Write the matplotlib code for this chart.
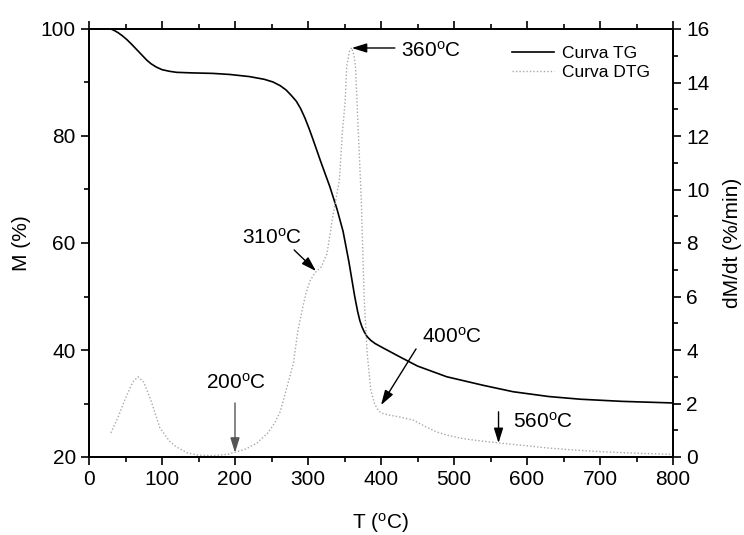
import numpy as np
import matplotlib
matplotlib.use("Agg")
import matplotlib.pyplot as plt
from matplotlib.ticker import MultipleLocator

plt.rcParams['font.family'] = ['Liberation Sans', 'DejaVu Sans']
plt.rcParams['mathtext.fontset'] = 'custom'
plt.rcParams['mathtext.rm'] = 'Liberation Sans'

# TG curve (left axis, %)
tg_T = [30, 35, 40, 46, 52, 58, 65, 72, 79, 85, 92, 100, 110, 120, 140, 170,
        193, 220, 240, 252, 262, 270, 277, 284, 290, 296, 302, 307, 318, 330,
        340, 348, 356, 364, 368, 371, 374, 377, 381, 386, 392, 400, 426, 450,
        490, 540, 581, 630, 673, 730, 800]
tg_M = [100, 99.7, 99.3, 98.7, 98, 97.2, 96.2, 95.2, 94.2, 93.5, 92.9, 92.4,
        92.1, 91.9, 91.8, 91.7, 91.5, 91.1, 90.6, 90.1, 89.4, 88.6, 87.6,
        86.5, 85.1, 83.3, 81.2, 79.3, 75, 70.5, 66.2, 62.2, 56.5, 50, 47.2,
        45.5, 44.3, 43.4, 42.5, 41.8, 41.2, 40.6, 38.7, 37, 35, 33.4, 32.2,
        31.3, 30.8, 30.4, 30.1]

# DTG curve (right axis, %/min)
dtg_T = [30, 40, 50, 60, 67, 75, 85, 97, 110, 120, 135, 150, 170, 190, 200,
         215, 230, 245, 255, 262, 270, 280, 286, 292, 297, 303, 310, 318, 326,
         334, 343, 347, 351, 353, 357, 360, 363, 365, 367, 370, 373, 377, 381,
         386, 391, 396, 400, 410, 425, 444, 460, 475, 490, 510, 530, 563, 600,
         627, 660, 700, 750, 800]
dtg_V = [0.9, 1.5, 2.2, 2.8, 3.0, 2.8, 2.1, 1.1, 0.6, 0.37, 0.15, 0.07, 0.05,
         0.1, 0.18, 0.3, 0.52, 0.9, 1.3, 1.7, 2.5, 3.5, 4.7, 5.5, 6.1, 6.6,
         6.9, 7.1, 7.6, 9.0, 10.35, 12.1, 13.35, 14.6, 15.2, 15.3, 15.0, 14.6,
         13.35, 11.5, 9.6, 5.9, 3.9, 2.5, 2.0, 1.75, 1.65, 1.57, 1.5, 1.38,
         1.15, 0.95, 0.82, 0.7, 0.62, 0.52, 0.42, 0.34, 0.27, 0.2, 0.14, 0.1]

fig = plt.figure(figsize=(7.44, 5.35), dpi=100)
ax1 = fig.add_axes([89 / 744, 1 - 457 / 535, 584 / 744, 428 / 535])
ax2 = ax1.twinx()

l1, = ax1.plot(tg_T, tg_M, color='black', lw=1.2, label='Curva TG')
l2, = ax2.plot(dtg_T, dtg_V, color='#a8a8a8', lw=1.0, ls=(0, (1, 1.5)),
               label='Curva DTG')

ax1.set_xlim(0, 800)
ax1.set_ylim(20, 100)
ax2.set_ylim(0, 16)
ax1.xaxis.set_major_locator(MultipleLocator(100))
ax1.xaxis.set_minor_locator(MultipleLocator(50))
ax1.yaxis.set_major_locator(MultipleLocator(20))
ax1.yaxis.set_minor_locator(MultipleLocator(10))
ax2.yaxis.set_major_locator(MultipleLocator(2))
ax2.yaxis.set_minor_locator(MultipleLocator(1))

for ax in (ax1, ax2):
    for sp in ax.spines.values():
        sp.set_linewidth(1.3)
ax1.tick_params(which='both', direction='out', width=1.2, labelsize=15,
                top=True, right=False)
ax1.tick_params(which='major', length=6)
ax1.tick_params(which='minor', length=3.5)
ax2.tick_params(which='both', direction='out', width=1.2, labelsize=15)
ax2.tick_params(which='major', length=6)
ax2.tick_params(which='minor', length=3.5)

ax1.set_xlabel('T ($\\rm^{o}$C)', fontsize=15, labelpad=16)
ax1.set_ylabel('M (%)', fontsize=15, labelpad=7)
ax2.set_ylabel('dM/dt (%/min)', fontsize=15, labelpad=10)

ax1.legend([l1, l2], ['Curva TG', 'Curva DTG'], loc='upper right',
           frameon=False, fontsize=12.5, handlelength=2.4, handletextpad=0.5,
           borderaxespad=0.3, labelspacing=0.25,
           bbox_to_anchor=(0.982, 0.99))

arr = dict(arrowstyle='-|>,head_length=0.9,head_width=0.28', color='black',
           lw=1.0, mutation_scale=10, shrinkA=0, shrinkB=0)
fs = 15
ax2.text(428, 15.2, '360$\\rm^{o}$C', fontsize=fs, va='center', ha='left')
ax2.annotate('', xy=(360, 15.29), xytext=(419, 15.29), arrowprops=arr)
ax2.text(251, 8.19, '310$\\rm^{o}$C', fontsize=fs, va='center', ha='center')
ax2.annotate('', xy=(311, 6.95), xytext=(281, 7.74), arrowprops=arr)
ax2.text(200.6, 2.77, '200$\\rm^{o}$C', fontsize=fs, va='center', ha='center')
ax2.annotate('', xy=(200, 0.16), xytext=(200, 2.02),
             arrowprops=dict(arr, color='#555555'))
ax2.text(456, 4.49, '400$\\rm^{o}$C', fontsize=fs, va='center', ha='left')
ax2.annotate('', xy=(400, 1.94), xytext=(448, 4.04), arrowprops=arr)
ax2.text(581, 1.31, '560$\\rm^{o}$C', fontsize=fs, va='center', ha='left')
ax2.annotate('', xy=(561, 0.52), xytext=(561, 1.69), arrowprops=arr)

fig.savefig('out.png', dpi=100)
